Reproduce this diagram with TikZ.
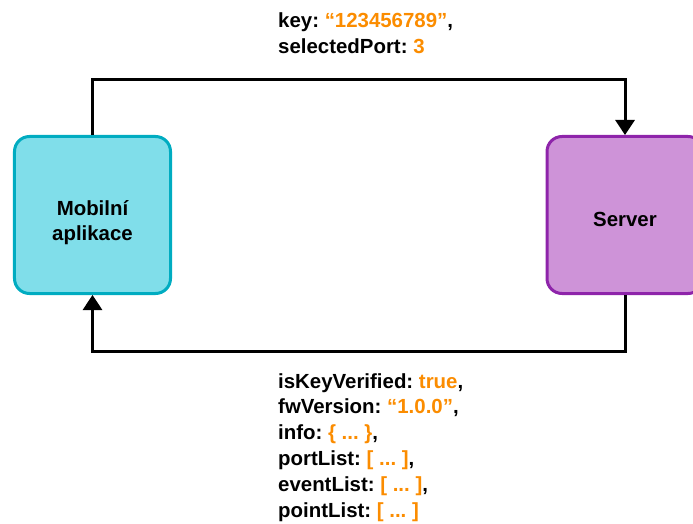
\documentclass[tikz,border=0pt]{standalone}
\usepackage{fontspec}
\setmainfont{Liberation Sans}
\frenchspacing
\usetikzlibrary{arrows.meta}
\definecolor{appfill}{HTML}{80DEEA}
\definecolor{appline}{HTML}{00ACC1}
\definecolor{srvfill}{HTML}{CE93D8}
\definecolor{srvline}{HTML}{8E24AA}
\definecolor{valorange}{HTML}{FB8C00}
\newcommand{\val}[1]{\textcolor{valorange}{#1}}
\tikzset{
	box/.style={rounded corners=15bp,line width=3bp,minimum width=156bp,minimum height=157bp,
		align=center,inner sep=0pt,text depth=0bp,font=\fontsize{20.5}{25}\selectfont\bfseries},
	link/.style={line width=3bp,-{Triangle[length=15bp,width=19bp]}},
	msg/.style={anchor=north west,inner sep=0pt,align=left,font=\fontsize{20.5}{26}\selectfont\bfseries},
}
\begin{document}
\begin{tikzpicture}[x=1bp,y=-1bp]
		\useasboundingbox (0,0) rectangle (693,524);
		\node [box,draw=appline,fill=appfill,text height=50bp] (mobile) at (92.5,215) {Mobilní\\aplikace};
		\node [box,draw=srvline,fill=srvfill,text height=24bp] (server) at (625,215) {Server};
		\draw [link] (mobile.north) -- ++(0,-55) -| (server.north);
		\draw [link] (server.south) -- ++(0,56) -| (mobile.south);
		\node [msg] (request) at (278,13) {key: \val{“123456789”},\\selectedPort: \val{3}};
		\node [msg] (response) at (278,373) {isKeyVerified: \val{true},\\fwVersion: \val{“1.0.0”},\\
			info: \val{\{ ... \}},\\portList: \val{[ ... ]},\\eventList: \val{[ ... ]},\\pointList: \val{[ ... ]}};
	\end{tikzpicture}
\end{document}
